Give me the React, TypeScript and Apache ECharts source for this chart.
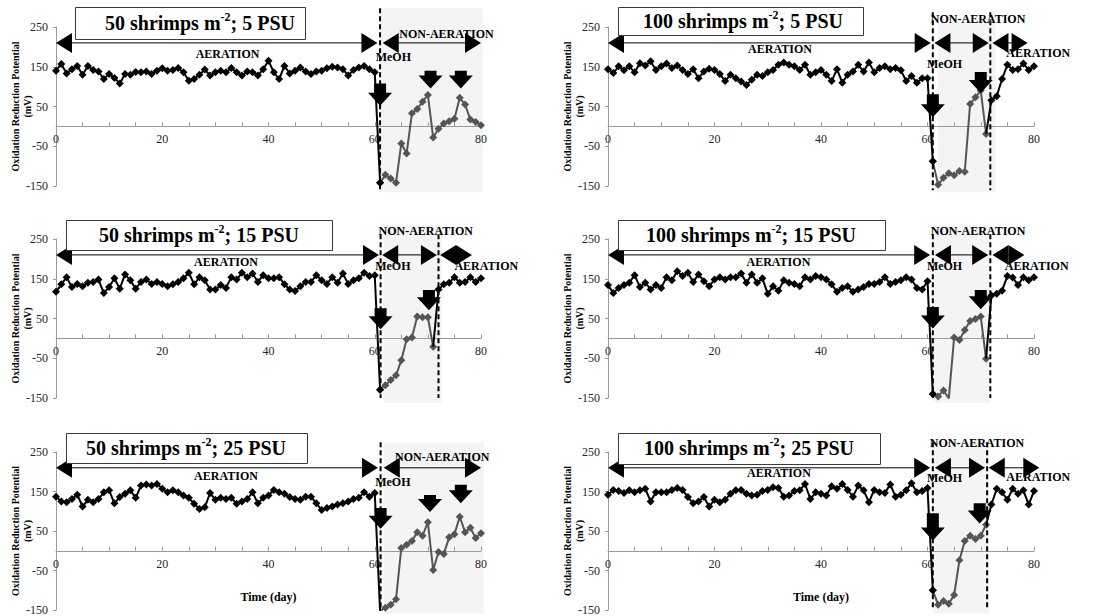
import React, { useEffect, useRef } from "react";
import * as echarts from "echarts";

const SERIF = "'Liberation Serif', 'Times New Roman', serif";

// ---- axes ----
const DAYS = Array.from({ length: 81 }, (_, i) => i);
const X_LABELS = [0, 20, 40, 60, 80];
const X_TICKS = [0, 5, 10, 15, 20, 25, 30, 35, 40, 45, 50, 55, 60, 65, 70, 75, 80];
const Y_LABELS = [-150, -50, 50, 150, 250];
const Y_MIN = -150;
const Y_MAX = 250;

// ---- ORP series (mV), day 0..80 ----
const ORP_50_5 = [
  140, 157, 133, 144, 152, 130, 152, 142, 138, 119,
  132, 122, 108, 132, 130, 137, 136, 138, 132, 140,
  146, 140, 142, 147, 136, 115, 119, 130, 143, 128,
  136, 140, 136, 147, 136, 128, 138, 136, 128, 144,
  165, 136, 119, 152, 133, 140, 148, 138, 132, 138,
  140, 146, 150, 148, 144, 128, 142, 148, 152, 144,
  136,
  -142, -122, -131, -142, -43, -68, 33, 44, 62, 79,
  -28, -6, 7, 13, 19, 72, 55, 17, 11, 3,
];
const ORP_100_5 = [
  144, 134, 151, 141, 151, 136, 159, 153, 164, 142,
  151, 158, 147, 153, 142, 132, 144, 121, 138, 145,
  142, 132, 114, 130, 121, 113, 104, 117, 130, 127,
  136, 142, 155, 161, 155, 151, 142, 155, 130, 136,
  142, 130, 114, 144, 110, 130, 138, 155, 138, 161,
  136, 147, 151, 144, 147, 141, 114, 127, 110, 121,
  121,
  -88, -147, -129, -118, -123, -112, -114, 56, 73, 90,
  -19, 66, 76, 119, 155, 142, 144, 158, 142, 151,
];
const ORP_50_15 = [
  117, 136, 154, 129, 137, 131, 140, 142, 148, 114,
  129, 151, 125, 161, 146, 125, 142, 148, 137, 142,
  137, 131, 136, 142, 151, 165, 136, 154, 146, 123,
  123, 134, 127, 154, 148, 165, 154, 163, 142, 159,
  151, 151, 154, 136, 123, 119, 131, 142, 142, 159,
  146, 137, 154, 140, 163, 137, 146, 151, 165, 157,
  159,
  -129, -118, -105, -93, -55, -2, 2, 55, 53, 53,
  -21, 123, 136, 140, 154, 140, 142, 154, 142, 151,
];
const ORP_100_15 = [
  134, 114, 127, 134, 140, 159, 129, 140, 123, 134,
  127, 154, 146, 169, 157, 165, 142, 161, 144, 131,
  148, 154, 148, 154, 154, 163, 140, 161, 140, 151,
  112, 131, 120, 146, 140, 137, 131, 154, 148, 157,
  154, 148, 136, 117, 127, 131, 117, 123, 129, 137,
  137, 142, 154, 137, 142, 146, 154, 148, 127, 123,
  144,
  -140, -146, -131, -151, 2, -4, 21, 44, 49, 55,
  -51, 108, 112, 120, 157, 153, 134, 154, 146, 154,
];
const ORP_50_25 = [
  137, 125, 123, 131, 142, 112, 129, 123, 131, 148,
  153, 120, 136, 144, 153, 134, 165, 168, 165, 169,
  157, 148, 153, 148, 140, 134, 119, 106, 110, 146,
  129, 134, 131, 134, 119, 125, 131, 148, 120, 134,
  140, 154, 148, 144, 136, 131, 129, 137, 137, 120,
  103, 108, 112, 117, 120, 125, 131, 134, 148, 137,
  146,
  -152, -144, -137, -123, 7, 15, 25, 47, 38, 72,
  -49, -3, -8, 34, 42, 86, 47, 58, 32, 44,
];
const ORP_100_25 = [
  142, 154, 151, 146, 153, 148, 153, 157, 125, 148,
  148, 148, 154, 159, 154, 136, 120, 125, 136, 112,
  129, 123, 129, 144, 153, 154, 144, 140, 142, 151,
  154, 161, 159, 137, 140, 151, 153, 169, 131, 148,
  144, 140, 163, 157, 169, 154, 137, 165, 153, 123,
  154, 148, 146, 168, 137, 142, 153, 171, 148, 151,
  159,
  -100, -137, -127, -134, -112, -24, 25, 38, 30, 38,
  66, 117, 157, 148, 129, 157, 144, 153, 117, 151,
];

const PANEL_DATA = [ORP_50_5, ORP_100_5, ORP_50_15, ORP_100_15, ORP_50_25, ORP_100_25];
const DENSITY = ["50", "100", "50", "100", "50", "100"];
const SALINITY = ["5", "5", "15", "15", "25", "25"];
const METHANOL_DAY = 61;
const REAERATION_DAY: (number | null)[] = [null, 71, 71, 71, null, 71];

// ---- annotations, in data units (day, mV) ----
const SHADES = [
  [61, 80.3, 297, -166],
  [62, 72.8, 262, -166],
  [61.7, 72.6, 285, -162],
  [61, 71.8, 285, -162],
  [61.7, 80.5, 275, -158],
  [61, 71.5, 275, -158],
];
const DASH_X = [[61], [61, 71.8], [61.1, 72], [61, 71.8], [61.1], [61, 71.2]];
const DASH_Y = [[297, -161], [287, -161], [262, -150], [262, -150], [275, -150], [275, -150]];
const ARROW_Y = 210;
const ARROWS = [
  [[0, 60.5], [61.5, 80]],
  [[0, 60.6], [61.3, 71.5], [72.2, 78.8]],
  [[0, 60.8], [61.4, 71.7], [72.3, 78.3]],
  [[0, 60.5], [61.4, 71.4], [72.2, 78.2]],
  [[0, 60.6], [61.7, 80]],
  [[0, 60.5], [61.4, 70.8], [71.5, 81]],
];
const LABELS: [string, number, number][][] = [
  [["AERATION", 32.3, 182], ["NON-AERATION", 73.5, 232], ["MeOH", 63.5, 175]],
  [["AERATION", 32.3, 195], ["NON-AERATION", 69.5, 270], ["MeOH", 63.2, 157], ["AERATION", 80.8, 185]],
  [["AERATION", 32, 193], ["NON-AERATION", 69.6, 270], ["MeOH", 63.4, 181], ["AERATION", 81, 183]],
  [["AERATION", 32, 193], ["NON-AERATION", 69.5, 270], ["MeOH", 63.2, 181], ["AERATION", 80.5, 183]],
  [["AERATION", 32, 190], ["NON-AERATION", 72.7, 238], ["MeOH", 63.4, 174]],
  [["AERATION", 32.1, 197], ["NON-AERATION", 69.3, 274], ["MeOH", 63.2, 185], ["AERATION", 80.8, 187]],
];
const BLOCK_ARROWS = [
  [[61, 108, 52], [70.5, 140, 95], [76.2, 140, 95]],
  [[61, 81, 23], [70, 137, 84]],
  [[61.1, 76, 23], [70.2, 122, 71]],
  [[61, 79, 25], [70, 122, 73]],
  [[61.1, 108, 56], [70.4, 141, 98], [76.2, 167, 120]],
  [[61, 95, 26], [69.8, 120, 69]],
];

// ---- layout (pixels) ----
const GRID_TOPS = [27, 239, 452];
const GRID_HEIGHTS = [159, 159, 158];
const GRID_LEFTS = [56, 608];
const GRID_WIDTHS = [425, 426];
const TITLE_BOXES = [
  [75, 7, 230, 32, 200, 23],
  [618, 7, 245, 28, 743, 21],
  [66, 220, 266, 30, 199, 235],
  [618, 220, 267, 30, 751, 235],
  [66, 433, 241, 30, 186, 448],
  [618, 433, 262, 31, 749, 448],
];

const BLACK = "#000000";
const GREY = "#555555";
const AXIS_GREY = "#9a9a9a";
const LABEL_COLOR = "#262626";

function buildOption() {
  const grid: any[] = [];
  const xAxis: any[] = [];
  const yAxis: any[] = [];
  const series: any[] = [];
  for (let i = 0; i < 6; i++) {
    const row = Math.floor(i / 2);
    const col = i % 2;
    grid.push({
      left: GRID_LEFTS[col],
      top: GRID_TOPS[row],
      width: GRID_WIDTHS[col],
      height: GRID_HEIGHTS[row],
      containLabel: false,
    });
    // the x axis sits on the zero line (offset from grid bottom computed from the y scale)
    const zeroOffset = -GRID_HEIGHTS[row] * (0 - Y_MIN) / (Y_MAX - Y_MIN);
    xAxis.push({
      type: "value",
      gridIndex: i,
      min: 0,
      max: 80,
      interval: 5,
      position: "bottom",
      offset: zeroOffset,
      axisLine: { onZero: false, lineStyle: { color: AXIS_GREY, width: 1 } },
      axisTick: { show: true, inside: true, length: 4, customValues: X_TICKS, lineStyle: { color: AXIS_GREY } },
      axisLabel: { customValues: X_LABELS, color: LABEL_COLOR, fontFamily: SERIF, fontSize: 12, margin: 7 },
      splitLine: { show: false },
      name: row === 2 ? "Time (day)" : "",
      nameLocation: "middle",
      nameGap: 40,
      nameMoveOverlap: false,
      nameTextStyle: { color: "#000", fontFamily: SERIF, fontSize: 12, fontWeight: "bold" },
    });
    yAxis.push({
      type: "value",
      gridIndex: i,
      min: Y_MIN,
      max: Y_MAX,
      interval: 50,
      axisLine: { show: true, onZero: false, lineStyle: { color: AXIS_GREY, width: 1 } },
      axisTick: { show: true, length: 3, customValues: Y_LABELS, lineStyle: { color: AXIS_GREY } },
      axisLabel: { customValues: Y_LABELS, color: LABEL_COLOR, fontFamily: SERIF, fontSize: 12, margin: 8 },
      splitLine: { show: false },
      name: "Oxidation Reduction Potential\n(mV)",
      nameLocation: "middle",
      nameGap: 23,
      nameMoveOverlap: false,
      nameTextStyle: { color: "#000", fontFamily: SERIF, fontSize: 10, fontWeight: "bold", lineHeight: 12 },
    });

    const vals = PANEL_DATA[i];
    const re = REAERATION_DAY[i];
    const greyEnd = re === null ? 80 : re;
    const greyData = DAYS.filter((d) => d >= METHANOL_DAY && d <= greyEnd).map((d) => [d, vals[d]]);
    const blackData: any[] = DAYS.filter((d) => d <= METHANOL_DAY).map((d) => [d, vals[d]]);
    if (re !== null) {
      blackData.push([METHANOL_DAY + 1, "-"]);
      DAYS.filter((d) => d >= re).forEach((d) => {
        if (d === re) blackData.push({ value: [d, vals[d]], symbol: "none" });
        else blackData.push([d, vals[d]]);
      });
    }
    series.push({
      type: "line",
      xAxisIndex: i,
      yAxisIndex: i,
      data: greyData,
      symbol: "diamond",
      symbolSize: 8,
      lineStyle: { color: GREY, width: 2 },
      itemStyle: { color: GREY },
      z: 3,
    });
    series.push({
      type: "line",
      xAxisIndex: i,
      yAxisIndex: i,
      data: blackData,
      symbol: "diamond",
      symbolSize: 8,
      connectNulls: false,
      lineStyle: { color: BLACK, width: 2 },
      itemStyle: { color: BLACK },
      z: 4,
    });
  }
  return {
    animation: false,
    backgroundColor: "#ffffff",
    textStyle: { fontFamily: SERIF },
    grid,
    xAxis,
    yAxis,
    series,
  };
}

function buildGraphics(chart: any) {
  const els: any[] = [];
  for (let i = 0; i < 6; i++) {
    const P = (x: number, y: number) => chart.convertToPixel({ gridIndex: i }, [x, y]) as number[];
    // shaded non-aeration zone
    const s = SHADES[i];
    const a = P(s[0], s[2]);
    const b = P(s[1], s[3]);
    els.push({
      type: "rect",
      silent: true,
      z: -10,
      shape: { x: a[0], y: a[1], width: b[0] - a[0], height: b[1] - a[1] },
      style: { fill: "#f4f4f4" },
    });
    // dashed lines
    DASH_X[i].forEach((dx) => {
      const p0 = P(dx, DASH_Y[i][0]);
      const p1 = P(dx, DASH_Y[i][1]);
      els.push({
        type: "line",
        silent: true,
        z: 10,
        shape: { x1: p0[0], y1: p0[1], x2: p1[0], y2: p1[1] },
        style: { stroke: "#000", lineWidth: 2, lineDash: [5, 3] },
      });
    });
    // double arrows
    ARROWS[i].forEach(([x0, x1]) => {
      const p0 = P(x0, ARROW_Y);
      const p1 = P(x1, ARROW_Y);
      const y = p0[1];
      els.push({
        type: "line",
        silent: true,
        z: 10,
        shape: { x1: p0[0] + 8, y1: y, x2: p1[0] - 8, y2: y },
        style: { stroke: "#000", lineWidth: 1 },
      });
      els.push({
        type: "polygon",
        silent: true,
        z: 10,
        shape: { points: [[p0[0], y], [p0[0] + 16, y - 10], [p0[0] + 16, y + 10]] },
        style: { fill: "#000" },
      });
      els.push({
        type: "polygon",
        silent: true,
        z: 10,
        shape: { points: [[p1[0], y], [p1[0] - 16, y - 10], [p1[0] - 16, y + 10]] },
        style: { fill: "#000" },
      });
    });
    // block arrows
    BLOCK_ARROWS[i].forEach(([bx, top, tip]) => {
      const t = P(bx, top);
      const p = P(bx, tip);
      const x = p[0];
      const sh = 6;
      const hh = 12;
      const hl = 13;
      els.push({
        type: "polygon",
        silent: true,
        z: 11,
        shape: {
          points: [
            [x - sh, t[1]],
            [x + sh, t[1]],
            [x + sh, p[1] - hl],
            [x + hh, p[1] - hl],
            [x, p[1]],
            [x - hh, p[1] - hl],
            [x - sh, p[1] - hl],
          ],
        },
        style: { fill: "#000" },
      });
    });
    // labels
    LABELS[i].forEach(([txt, lx, ly]) => {
      const p = P(lx, ly);
      els.push({
        type: "text",
        silent: true,
        z: 12,
        x: p[0],
        y: p[1],
        style: {
          text: txt,
          fontFamily: SERIF,
          fontSize: 12,
          fontWeight: "bold",
          fill: "#000",
          align: "center",
          verticalAlign: "middle",
        },
      });
    });
    // title box
    const tb = TITLE_BOXES[i];
    els.push({
      type: "rect",
      silent: true,
      z: 13,
      shape: { x: tb[0] + 0.5, y: tb[1] + 0.5, width: tb[2], height: tb[3] },
      style: { fill: "#ffffff", stroke: "#3a3a3a", lineWidth: 1 },
    });
    els.push({
      type: "text",
      silent: true,
      z: 14,
      x: tb[4],
      y: tb[5],
      style: {
        text: `{m|${DENSITY[i]} shrimps m}{s|-2}{m|; ${SALINITY[i]} PSU}`,
        align: "center",
        verticalAlign: "middle",
        rich: {
          m: { fontFamily: SERIF, fontSize: 20, fontWeight: "bold", fill: "#000", lineHeight: 24 },
          s: { fontFamily: SERIF, fontSize: 12, fontWeight: "bold", fill: "#000", lineHeight: 14, verticalAlign: "top" },
        },
      },
    });
  }
  return els;
}

export default function App() {
  const ref = useRef<HTMLDivElement>(null);
  useEffect(() => {
    if (!ref.current) return;
    const chart = echarts.init(ref.current, undefined, { renderer: "svg" });
    chart.setOption(buildOption());
    chart.setOption({ graphic: { elements: buildGraphics(chart) } });
    return () => chart.dispose();
  }, []);
  return (
    <div
      ref={ref}
      style={{ position: "fixed", left: 0, top: 0, width: 1105, height: 616, background: "#fff" }}
    />
  );
}
